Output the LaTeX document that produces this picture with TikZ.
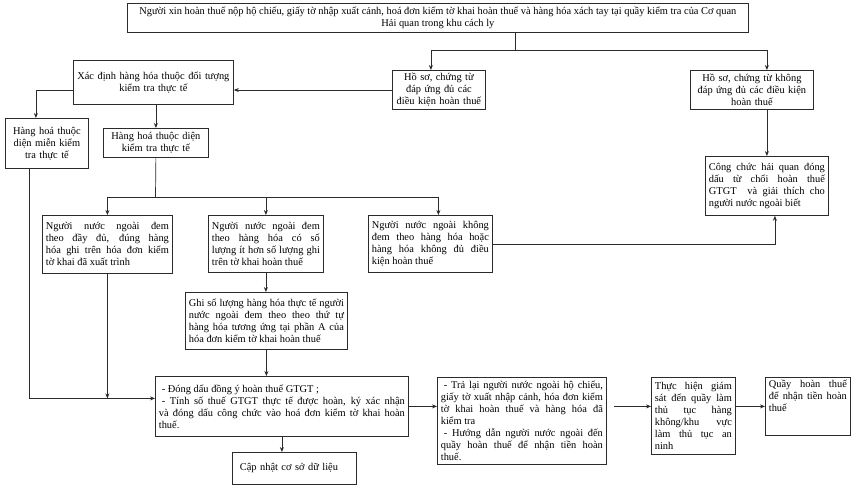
\documentclass[tikz,border=0pt]{standalone}
\usepackage{fontspec}
\setmainfont{Liberation Serif}
\usepackage{tikz}
\usetikzlibrary{arrows.meta,positioning,calc}
\definecolor{ink}{HTML}{2B2B2B}

\begin{document}
\begin{tikzpicture}[x=1pt,y=-1pt,font=\fontsize{10.4}{12}\selectfont,>={Stealth[length=5pt,width=4pt]}]
\tikzset{box/.style={draw=ink, line width=.8pt, inner xsep=3.5pt, inner ysep=3pt, anchor=north west, align=center}, jbox/.style={box, align=justify}, link/.style={line width=.7pt, draw=ink}, arr/.style={link, ->}}
\useasboundingbox (0,0) rectangle (857,486);
% top row
\node[box, minimum width=621pt, minimum height=29pt] (top) at (127,3) {Người xin hoàn thuế nộp hộ chiếu, giấy tờ nhập xuất cảnh, hoá đơn kiểm tờ khai hoàn thuế và hàng hóa xách tay tại quầy kiểm tra của Cơ quan\\Hải quan trong khu cách ly};
\node[box, text width=153pt, minimum height=44pt] (xacdinh) at (73,60) {Xác định hàng hóa thuộc đối tượng\\kiểm tra thực tế};
\node[box, text width=86pt, minimum height=39pt] (hsok) at (392,70) {Hồ sơ, chứng từ\\đáp ứng đủ các\\điều kiện hoàn thuế};
\node[box, text width=116pt, minimum height=39pt] (hskhong) at (690,70) {Hồ sơ, chứng từ không\\đáp ứng đủ các điều kiện\\hoàn thuế};
\node[box, text width=76pt, minimum height=50pt] (mienkiem) at (5,118) {Hàng hoá thuộc\\diện miễn kiểm\\tra thực tế};
\node[box, text width=98pt, minimum height=29pt] (kiemtra) at (103,128) {Hàng hoá thuộc diện\\kiểm tra thực tế};
\node[jbox, text width=116pt, minimum height=59pt] (congchuc) at (705,156) {Công chức hải quan đóng\linebreak dấu từ chối hoàn thuế\linebreak GTGT \ và giải thích cho\linebreak người nước ngoài biết};
% cases
\node[jbox, text width=123pt, minimum height=58pt] (boxA) at (42,215) {Người nước ngoài đem\linebreak theo đầy đủ, đúng hàng\linebreak hóa ghi trên hóa đơn kiểm\linebreak tờ khai đã xuất trình};
\node[jbox, text width=108pt, minimum height=57pt] (boxB) at (208,215) {Người nước ngoài đem\linebreak theo hàng hóa có số\linebreak lượng ít hơn số lượng ghi\linebreak trên tờ khai hoàn thuế};
\node[jbox, text width=117pt, minimum height=57pt] (boxC) at (368,215) {Người nước ngoài không\linebreak đem theo hàng hóa hoặc\linebreak hàng hóa không đủ điều\linebreak kiện hoàn thuế};
\node[jbox, text width=155pt, minimum height=57pt] (ghi) at (185,292) {Ghi số lượng hàng hóa thực tế người\linebreak nước ngoài đem theo theo thứ tự\linebreak hàng hóa tương ứng tại phần A của\linebreak hóa đơn kiểm tờ khai hoàn thuế};
% bottom row
\node[jbox, text width=246pt, minimum height=60pt] (dongdau) at (155,376) {\hspace*{3pt}- Đóng dấu đồng ý hoàn thuế GTGT ;\\\hspace*{3pt}- Tính số thuế GTGT thực tế được hoàn, ký xác nhận\linebreak và đóng dấu công chức vào hoá đơn kiểm tờ khai hoàn\linebreak thuế.};
\node[box, align=left, text width=117pt, minimum height=32pt] (capnhat) at (232,452) {\hspace*{4pt}Cập nhật cơ sở dữ liệu};
\node[jbox, text width=162pt, minimum height=87pt] (tralai) at (437,377) {\hspace*{3pt}- Trả lại người nước ngoài hộ chiếu,\linebreak giấy tờ xuất nhập cảnh, hóa đơn kiểm\linebreak tờ khai hoàn thuế và hàng hóa đã\linebreak kiểm tra\\\hspace*{3pt}- Hướng dẫn người nước ngoài đến\linebreak quầy hoàn thuế để nhận tiền hoàn\linebreak thuế.};
\node[jbox, text width=77pt, minimum height=77pt] (thuchien) at (651,377) {Thực hiện giám\linebreak sát đến quầy làm\linebreak thủ tục hàng\linebreak không/khu vực\linebreak làm thủ tục an\linebreak ninh};
\node[jbox, text width=78pt, text height=7pt, text depth=45pt] (quay) at (765,377) {Quầy hoàn thuế\linebreak để nhận tiền hoàn\linebreak thuế};
% connectors
\coordinate (split1) at (515,50);
\draw[link] (top.south -| split1) -- (split1);
\draw[arr] (split1) -| ([xshift=-8pt]hsok.north);
\draw[arr] (split1) -| (hskhong.north -| congchuc.north);
\draw[arr] (hskhong.south -| congchuc.north) -- (congchuc.north);
\draw[arr] (hsok.west) -- (hsok.west -| xacdinh.east);
\draw[arr] ([yshift=-8pt]xacdinh.west) -| ([xshift=-11pt]mienkiem.north);
\draw[arr] (xacdinh.south -| kiemtra.north) -- (kiemtra.north);
\coordinate (split2) at (155.5,197);
\draw[link] (kiemtra.south) -- (split2);
\draw[arr] (split2) -| (boxA.north);
\draw[arr] (split2) -| ([xshift=8pt]boxC.north);
\draw[arr] (boxB.north |- split2) -- (boxB.north);
\draw[arr] (boxC.east) -| ([xshift=8pt]congchuc.south);
\draw[arr] (boxB.south) -- (boxB.south |- ghi.north);
\draw[arr] (ghi.south) -- (ghi.south |- dongdau.north);
\draw[arr] (dongdau.south) -- (dongdau.south |- capnhat.north);
\coordinate (merge) at ([yshift=8pt]dongdau.west);
\draw[arr] ([xshift=-18pt]mienkiem.south) |- (merge);
\draw[arr] (boxA.south) -- (boxA.south |- merge);
\draw[arr] (dongdau.east) -- (dongdau.east -| tralai.west);
\coordinate (lvl) at (dongdau.east);
\draw[arr, shorten <=7pt] (tralai.east |- lvl) -- (thuchien.west |- lvl);
\draw[arr] (thuchien.east |- lvl) -- (quay.west |- lvl);
\end{tikzpicture}
\end{document}
